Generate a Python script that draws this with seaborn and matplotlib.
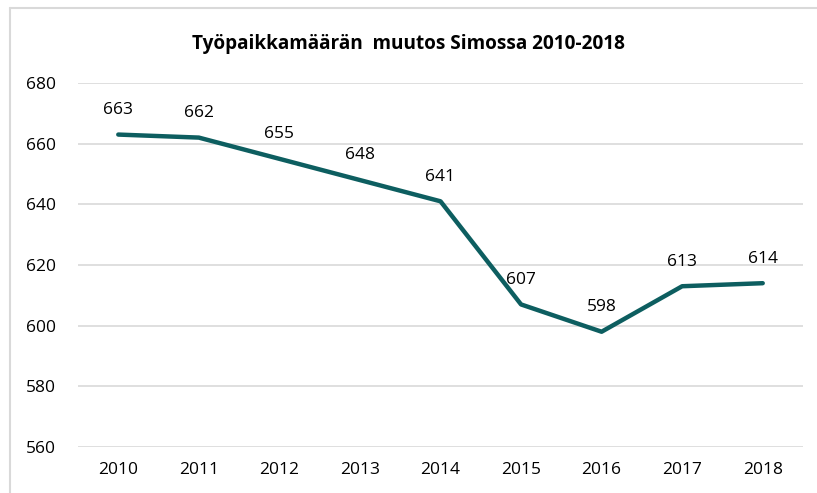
import matplotlib
matplotlib.use("Agg")
import matplotlib.pyplot as plt
import seaborn as sns
import pandas as pd
from matplotlib.lines import Line2D

years = ["2010", "2011", "2012", "2013", "2014", "2015", "2016", "2017", "2018"]
values = [663, 662, 655, 648, 641, 607, 598, 613, 614]
yticks = [560, 580, 600, 620, 640, 660, 680]
title = "Työpaikkamäärän  muutos Simossa 2010-2018"

sns.set_theme(style="white")
plt.rcParams['font.family'] = ['Open Sans', 'DejaVu Sans']

df = pd.DataFrame({"year": years, "value": values})

fig = plt.figure(figsize=(8.17, 4.93), dpi=100)
ax = fig.add_axes([78/817, 1-447/493, 725/817, (447-83)/493])

sns.lineplot(data=df, x="year", y="value", ax=ax, color="#0d5e60", linewidth=3.2, sort=False)

ax.set_xlim(-0.5, 8.5)
ax.set_ylim(560, 680)
ax.set_yticks(yticks)
ax.yaxis.grid(True, color="#d9d9d9", linewidth=1.2)
ax.xaxis.grid(False)
for s in ax.spines.values():
    s.set_visible(False)
ax.set_xlabel("")
ax.set_ylabel("")
ax.tick_params(axis="both", length=0, labelsize=12.5, colors="#000000")
ax.tick_params(axis="y", pad=16)
ax.tick_params(axis="x", pad=11)

for i, v in enumerate(values):
    ax.annotate(str(v), (i, v), xytext=(0, 12), textcoords="offset points",
                ha="center", va="bottom", fontsize=12.5, color="#000000")

fig.text(0.5, 1-44/493, title, ha="center", va="center", fontsize=13.7, fontweight="bold", color="#000000")

# chart border (top and left visible)
fig.add_artist(Line2D([10/817, 10/817], [0, 1-8/493], transform=fig.transFigure, color="#d9d9d9", linewidth=1.5))
fig.add_artist(Line2D([10/817, 1], [1-8/493, 1-8/493], transform=fig.transFigure, color="#d9d9d9", linewidth=1.5))

fig.savefig("out.png", dpi=100)
